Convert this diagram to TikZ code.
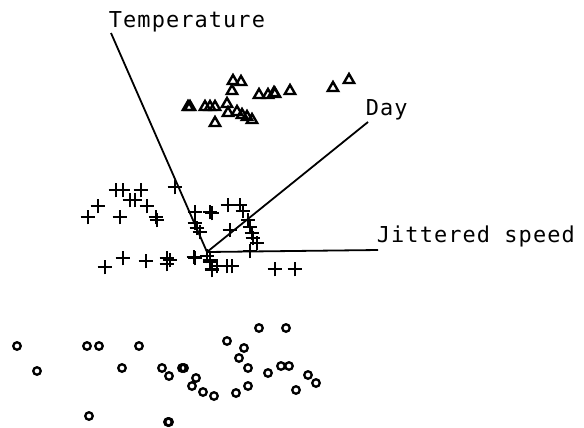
\documentclass[tikz,border=0pt]{standalone}
\usepackage{fontspec}
\newfontfamily\labelfont[LetterSpace=5]{DejaVu Sans Mono}
\usetikzlibrary{shapes.geometric,shapes.misc}
\begin{document}
\begin{tikzpicture}[x=1bp, y=-1bp, line width=1.8bp,
	tri/.style = {draw, regular polygon, regular polygon sides=3, inner sep=0pt, minimum size=12bp, line width=2.4bp},
	pl/.style = {draw, cross out, rotate=45, inner sep=0pt, minimum size=8bp, line width=2.4bp},
	pt/.style = {draw, circle, inner sep=0pt, minimum size=7.5bp, line width=2.3bp},
	lab/.style = {font=\labelfont\fontsize{22}{26}\selectfont, inner sep=0pt, anchor=base west}]
	\useasboundingbox (0,0) rectangle (584,427);
	% axes
	\coordinate (o) at (207,252);
	\coordinate (tempend) at (111,33);
	\coordinate (dayend) at (368,122);
	\coordinate (speedend) at (378,250);
	\node[lab] (temp) at (108,27) {Temperature};
	\node[lab] (day) at (365,115) {Day};
	\node[lab] (speed) at (376,242) {Jittered speed};
	\draw (o) -- (tempend);
	\draw (o) -- (dayend);
	\draw (o) -- (speedend);
	% triangles
	\foreach \x/\y [count=\i] in {233/81,241/82,232/91,259/95,268/95,274/93,275/94,290/91,333/88,349/80,
		188/107,190/107,205/107,210/107,215/107,227/104,228/113,237/112,242/115,247/117,252/120,215/123}
		\node[tri] (t\i) at (\x,\y) {};
	% pluses
	\foreach \x/\y [count=\i] in {116/190,123/190,141/190,130/200,135/200,98/206,88/217,120/217,147/206,156/217,
		157/220,175/187,195/212,210/212,195/223,197/228,200/232,105/267,123/258,146/261,167/258,167/264,170/260,
		194/257,207/256,210/262,212/269,228/205,240/205,243/211,212/213,248/220,230/230,250/227,252/233,253/238,
		257/243,250/251,195/258,210/260,217/266,227/266,232/266,212/270,275/269,295/269}
		\node[pl] (p\i) at (\x,\y) {};
	% circles
	\foreach \x/\y [count=\i] in {17/346,37/371,87/346,99/346,139/346,122/368,162/368,169/376,182/368,184/368,
		196/378,192/386,203/392,214/396,89/416,168/422,169/422,259/328,286/328,227/341,244/348,239/358,248/368,
		268/373,281/366,289/366,308/375,316/383,296/390,248/386,236/393}
		\node[pt] (c\i) at (\x,\y) {};
\end{tikzpicture}
\end{document}
